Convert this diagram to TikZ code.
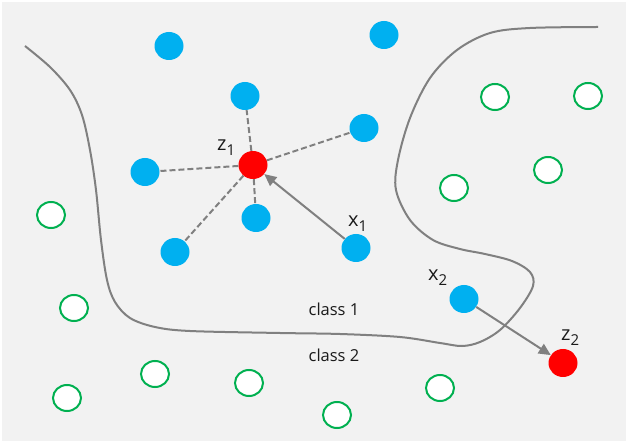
\documentclass[tikz,border=0pt]{standalone}
\usepackage{fontspec}
\setmainfont{Open Sans}
\usetikzlibrary{shapes.geometric,arrows.meta}
\definecolor{bgc}{HTML}{F2F2F2}
\definecolor{ptblue}{HTML}{00B0F0}
\definecolor{ptred}{HTML}{FF0000}
\definecolor{ptgreen}{HTML}{00B050}
\definecolor{lngray}{HTML}{808080}
\definecolor{txt}{HTML}{1A1A1A}
\tikzset{
  bpt/.style={ellipse, fill=ptblue, minimum width=29pt, minimum height=28pt, inner sep=0pt},
  rpt/.style={ellipse, fill=ptred, minimum width=29pt, minimum height=28pt, inner sep=0pt},
  gpt/.style={ellipse, draw=ptgreen, line width=2pt, fill=white, minimum width=28pt, minimum height=26pt, inner sep=0pt},
  dashln/.style={draw=lngray, line width=2pt, dash pattern=on 6pt off 3pt},
  arrln/.style={draw=lngray, line width=2pt, -{Triangle[length=12pt,width=11pt]}},
  bound/.style={draw=lngray, line width=2pt},
  lbl/.style={inner sep=0pt, anchor=base west, text=txt, font=\fontsize{20}{24}\selectfont},
  cls/.style={inner sep=0pt, anchor=base, text=txt, font=\fontsize{16.5}{20}\selectfont}
}
\newcommand{\subnum}[1]{\raisebox{-5pt}{\fontsize{15}{18}\selectfont #1}}
\begin{document}
\begin{tikzpicture}[x=1pt,y=-1pt]
\useasboundingbox (0,0) rectangle (629,443);
\fill[bgc] (2,2) rectangle (626,441);

% boundary
\draw[bound] plot[smooth, tension=0.55] coordinates {
 (25,46) (50,67) (70,90) (82,115) (90,150) (96,190) (101,240) (107,280) (115,302) (130,318) (155,327) (190,331) (280,333) (340,334) (400,337) (440,343) (462,346) (480,342) (500,330) (520,308) (533,286) (530,272) (512,261) (485,254) (460,249) (433,240) (410,220) (396,190) (398,160) (410,118) (430,78) (457,50) (490,33) (530,28) (598,27)};

% blue points
\node[bpt] (b1) at (169,46) {};
\node[bpt] (b2) at (384,35) {};
\node[bpt] (b3) at (245,96) {};
\node[bpt] (b4) at (364,128) {};
\node[bpt] (b5) at (145,172) {};
\node[bpt] (b6) at (256,218) {};
\node[bpt] (b7) at (175,252) {};
\node[bpt] (x1) at (356,248) {};
\node[bpt] (x2) at (464,299) {};
% red
\node[rpt] (z1) at (253,165) {};
\node[rpt] (z2) at (563,363) {};

% green points
\node[gpt] (g1) at (495,97) {};
\node[gpt] (g2) at (588,96) {};
\node[gpt] (g3) at (548,170) {};
\node[gpt] (g4) at (454,188) {};
\node[gpt] (g5) at (51,215) {};
\node[gpt] (g6) at (74,308) {};
\node[gpt] (g7) at (67,398) {};
\node[gpt] (g8) at (155,374) {};
\node[gpt] (g9) at (249,383) {};
\node[gpt] (g10) at (337,415) {};
\node[gpt] (g11) at (440,388) {};

% dashed links
\draw[dashln] (z1) -- (b3);
\draw[dashln] (z1) -- (b4);
\draw[dashln] (z1) -- (b5);
\draw[dashln] (z1) -- (b6);
\draw[dashln] (z1) -- (b7);

% arrows
\draw[arrln] (x1) -- (z1);
\draw[arrln] (x2) -- (z2);

% labels
\node[lbl] (lz1) at (217,151) {z\subnum{1}};
\node[lbl] (lx1) at (348,227) {x\subnum{1}};
\node[lbl] (lx2) at (428,281) {x\subnum{2}};
\node[lbl] (lz2) at (561,341) {z\subnum{2}};
\node[cls] (c1) at (334,316) {class 1};
\node[cls] (c2) at (334,362) {class 2};
\end{tikzpicture}
\end{document}
